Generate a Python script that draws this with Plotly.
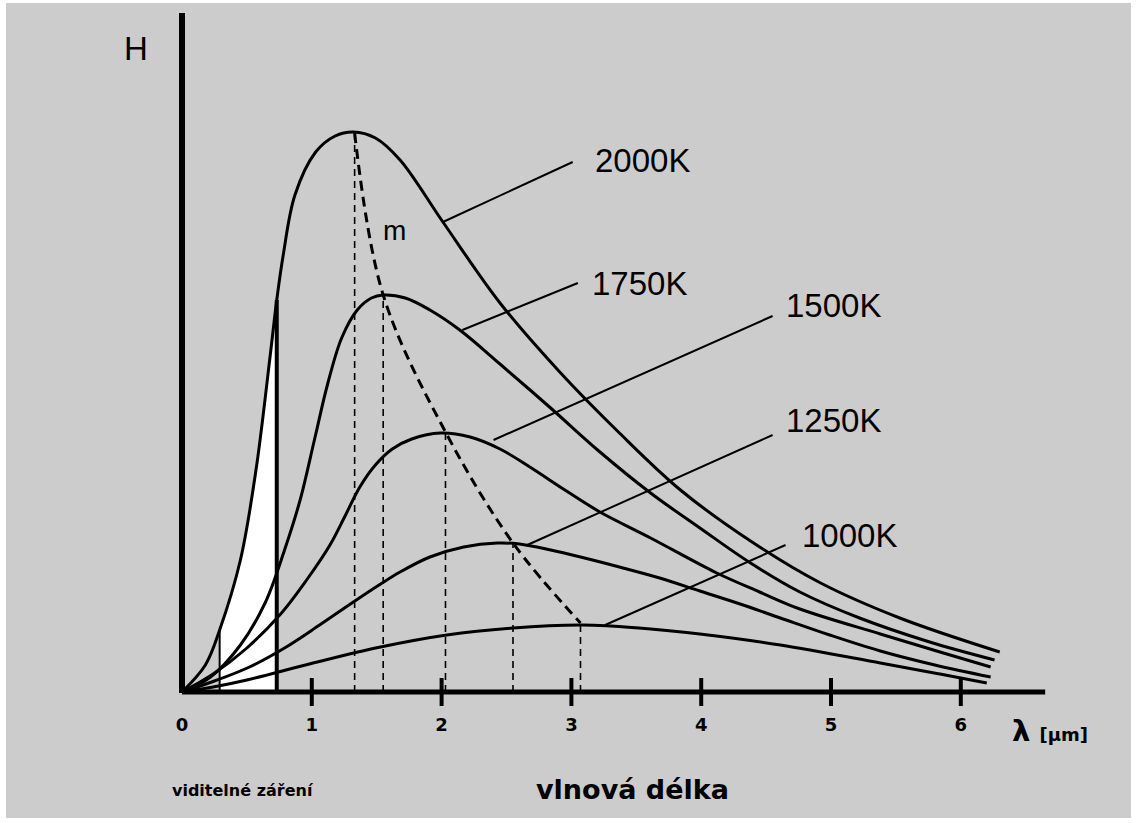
import numpy as np
import plotly.graph_objects as go

# ---------------- data ----------------
# wavelength lambda [um] and radiance H (arbitrary units)
LAM_2000 = [0, 0.18, 0.29, 0.45, 0.57, 0.68, 0.73, 0.78, 0.87, 1.03, 1.18, 1.32, 1.49, 1.68, 2.01,
            2.45, 2.91, 3.37, 3.84, 4.38, 4.92, 5.53, 6.30]
H_2000 = [0, 0.27, 0.62, 1.32, 2.22, 3.37, 3.92, 4.37, 4.97, 5.40, 5.56, 5.60, 5.54, 5.32, 4.70,
          3.89, 3.20, 2.59, 2.02, 1.51, 1.09, 0.74, 0.40]

LAM_1750 = [0, 0.22, 0.45, 0.64, 0.79, 0.91, 1.02, 1.12, 1.23, 1.35, 1.46, 1.55, 1.72, 1.91, 2.14,
            2.45, 2.84, 3.22, 3.61, 3.99, 4.38, 4.76, 5.22, 5.76, 6.26]
H_1750 = [0, 0.15, 0.47, 0.89, 1.42, 1.92, 2.52, 3.07, 3.54, 3.82, 3.94, 3.97, 3.94, 3.82, 3.62,
          3.28, 2.84, 2.40, 1.99, 1.64, 1.29, 1.00, 0.74, 0.50, 0.32]

LAM_1500 = [0, 0.24, 0.50, 0.76, 0.96, 1.14, 1.26, 1.37, 1.49, 1.62, 1.77, 1.99, 2.22, 2.45, 2.68,
            2.95, 3.22, 3.61, 4.12, 4.45, 4.76, 5.38, 5.84, 6.23]
H_1500 = [0, 0.18, 0.44, 0.78, 1.12, 1.47, 1.77, 2.05, 2.27, 2.43, 2.53, 2.59, 2.55, 2.43, 2.25,
          2.02, 1.80, 1.54, 1.19, 1.00, 0.83, 0.58, 0.40, 0.25]

LAM_1250 = [0, 0.25, 0.52, 0.79, 1.06, 1.32, 1.53, 1.68, 1.91, 2.17, 2.43, 2.60, 2.84, 3.07, 3.37,
            3.68, 3.99, 4.30, 4.61, 4.99, 5.38, 5.80, 6.23]
H_1250 = [0, 0.11, 0.25, 0.44, 0.67, 0.90, 1.08, 1.20, 1.35, 1.45, 1.49, 1.48, 1.42, 1.35, 1.25,
          1.14, 1.01, 0.88, 0.74, 0.57, 0.41, 0.27, 0.15]

LAM_1000 = [0, 0.24, 0.50, 1.01, 1.53, 2.04, 2.55, 3.07, 3.30, 3.61, 3.99, 4.61, 5.38, 5.84, 6.20]
H_1000 = [0, 0.05, 0.12, 0.29, 0.45, 0.57, 0.64, 0.67, 0.66, 0.63, 0.58, 0.47, 0.29, 0.18, 0.09]

TEMPS = ["2000K", "1750K", "1500K", "1250K", "1000K"]
CURVES = [(LAM_2000, H_2000), (LAM_1750, H_1750), (LAM_1500, H_1500),
          (LAM_1250, H_1250), (LAM_1000, H_1000)]

# maxima of the curves (line "m", Wien's displacement)
M_LAM = [1.33, 1.55, 2.03, 2.55, 3.07]
M_H = [5.59, 3.97, 2.60, 1.49, 0.69]

# visible radiation band [um]
VIS_LAM = [0.29, 0.73]

TICK_VALUES = [0, 1, 2, 3, 4, 5, 6]
TICK_LABELS = ["0", "1", "2", "3", "4", "5", "6"]

# ---------------- layout geometry ----------------
W, HGT = 1137, 823
X0_PX, Y0_PX = 182, 692          # pixel of the origin
PXU_X, PXU_Y = 129.8, 100.0      # pixels per unit
L, R_EDGE, T, B_EDGE = 120, 1110, 5, 700
xr = [(L - X0_PX) / PXU_X, (R_EDGE - X0_PX) / PXU_X]
yr = [(Y0_PX - B_EDGE) / PXU_Y, (Y0_PX - T) / PXU_Y]


def xp(px):
    return (px - L) / (R_EDGE - L)


def yp(py):
    return (B_EDGE - py) / (B_EDGE - T)


X_AXIS_END = 6.65
Y_AXIS_END = 6.79

# leader lines from curves to labels
LEAD = [((2.01, 4.70), (3.01, 5.30)),
        ((2.16, 3.62), (3.05, 4.09)),
        ((2.40, 2.52), (4.55, 3.76)),
        ((2.66, 1.47), (4.55, 2.57)),
        ((3.26, 0.67), (4.65, 1.47))]
LABEL_POS = [(3.17, 5.32), (3.14, 4.09), (4.64, 3.87), (4.64, 2.72), (4.76, 1.57)]

LBL_FONT = "Liberation Sans"
HAND_FONT = "DejaVu Sans"

fig = go.Figure()

# white visible-radiation band under the 2000K curve
lam_a = np.array(LAM_2000)
h_a = np.array(H_2000)
mask = (lam_a >= VIS_LAM[0]) & (lam_a <= VIS_LAM[1])
fig.add_trace(go.Scatter(x=lam_a[mask], y=h_a[mask], mode="lines", line=dict(width=0, shape="spline"),
                         fill="tozeroy", fillcolor="white", hoverinfo="skip", showlegend=False))
vis_h = [float(h_a[np.argmin(np.abs(lam_a - v))]) for v in VIS_LAM]
fig.add_trace(go.Scatter(x=[VIS_LAM[0], VIS_LAM[0]], y=[0, vis_h[0]], mode="lines",
                         line=dict(color="black", width=2), showlegend=False, hoverinfo="skip"))
fig.add_trace(go.Scatter(x=[VIS_LAM[1], VIS_LAM[1]], y=[0, vis_h[1]], mode="lines",
                         line=dict(color="black", width=4), showlegend=False, hoverinfo="skip"))

# dashed verticals at maxima
for lm, hm in zip(M_LAM, M_H):
    fig.add_trace(go.Scatter(x=[lm, lm], y=[0, hm], mode="lines",
                             line=dict(color="black", width=1.6, dash="7px,5px"),
                             showlegend=False, hoverinfo="skip"))
# line m
fig.add_trace(go.Scatter(x=M_LAM, y=M_H, mode="lines",
                         line=dict(color="black", width=3, dash="10px,6px", shape="spline"),
                         showlegend=False, hoverinfo="skip"))

# curves
for name, (lx, hy) in zip(TEMPS, CURVES):
    fig.add_trace(go.Scatter(x=lx, y=hy, mode="lines", name=name,
                             line=dict(color="black", width=3, shape="spline", smoothing=1.0),
                             showlegend=False))

# leader lines
for (a, b) in LEAD:
    fig.add_trace(go.Scatter(x=[a[0], b[0]], y=[a[1], b[1]], mode="lines",
                             line=dict(color="black", width=2), showlegend=False, hoverinfo="skip"))

# tick marks
fig.add_trace(go.Scatter(x=TICK_VALUES[1:], y=[0] * (len(TICK_VALUES) - 1), mode="markers",
                         marker=dict(symbol="line-ns", size=20, line=dict(color="black", width=4)),
                         cliponaxis=False, showlegend=False, hoverinfo="skip"))

shapes = [
    # gray picture background with white border
    dict(type="rect", xref="paper", yref="paper", x0=xp(6), x1=xp(1131), y0=yp(818), y1=yp(3),
         fillcolor="#cccccc", line=dict(width=0), layer="below"),
    # axes
    dict(type="line", xref="x", yref="y", x0=0, x1=X_AXIS_END, y0=0, y1=0,
         line=dict(color="black", width=5), layer="above"),
    dict(type="line", xref="x", yref="y", x0=0, x1=0, y0=-0.01, y1=Y_AXIS_END,
         line=dict(color="black", width=6), layer="above"),
]

annotations = []
for name, (lx, hy) in zip(TEMPS, LABEL_POS):
    annotations.append(dict(x=lx, y=hy, xref="x", yref="y", text=name, showarrow=False,
                            xanchor="left", yanchor="middle",
                            font=dict(family=LBL_FONT, size=33, color="black")))
annotations += [
    dict(x=-0.354, y=6.44, xref="x", yref="y", text="H", showarrow=False,
         xanchor="center", yanchor="middle",
         font=dict(family=LBL_FONT, size=33, color="black")),
    dict(x=1.64, y=4.62, xref="x", yref="y", text="m", showarrow=False,
         xanchor="center", yanchor="middle",
         font=dict(family=LBL_FONT, size=28, color="black")),
    dict(x=xp(1010), y=yp(731), xref="paper", yref="paper", xanchor="left", yanchor="middle",
         text="<b>λ</b> <b><span style='font-size:18px'>[μm]</span></b>", showarrow=False,
         font=dict(family=HAND_FONT, size=29, color="black")),
    dict(x=xp(243), y=yp(790), xref="paper", yref="paper", text="<b>viditelné záření</b>",
         xanchor="center", yanchor="middle",
         showarrow=False, font=dict(family=HAND_FONT, size=16, color="black")),
    dict(x=xp(632), y=yp(789), xref="paper", yref="paper", text="<b>vlnová délka</b>",
         xanchor="center", yanchor="middle",
         showarrow=False, font=dict(family=HAND_FONT, size=27, color="black")),
]

fig.update_layout(
    width=W, height=HGT, autosize=False,
    margin=dict(l=L, r=W - R_EDGE, t=T, b=HGT - B_EDGE, pad=0),
    paper_bgcolor="white", plot_bgcolor="rgba(0,0,0,0)",
    shapes=shapes, annotations=annotations, showlegend=False,
    xaxis=dict(range=xr, showgrid=False, zeroline=False, showline=False, ticks="",
               tickvals=TICK_VALUES, ticktext=TICK_LABELS, ticklabelstandoff=12,
               tickfont=dict(family=HAND_FONT, size=18, color="black", weight="bold"),
               fixedrange=True),
    yaxis=dict(range=yr, showgrid=False, zeroline=False, showline=False,
               showticklabels=False, ticks="", fixedrange=True),
)

fig.write_html("out.html", config={"displayModeBar": False},
               post_script="document.body.style.margin='0';")
